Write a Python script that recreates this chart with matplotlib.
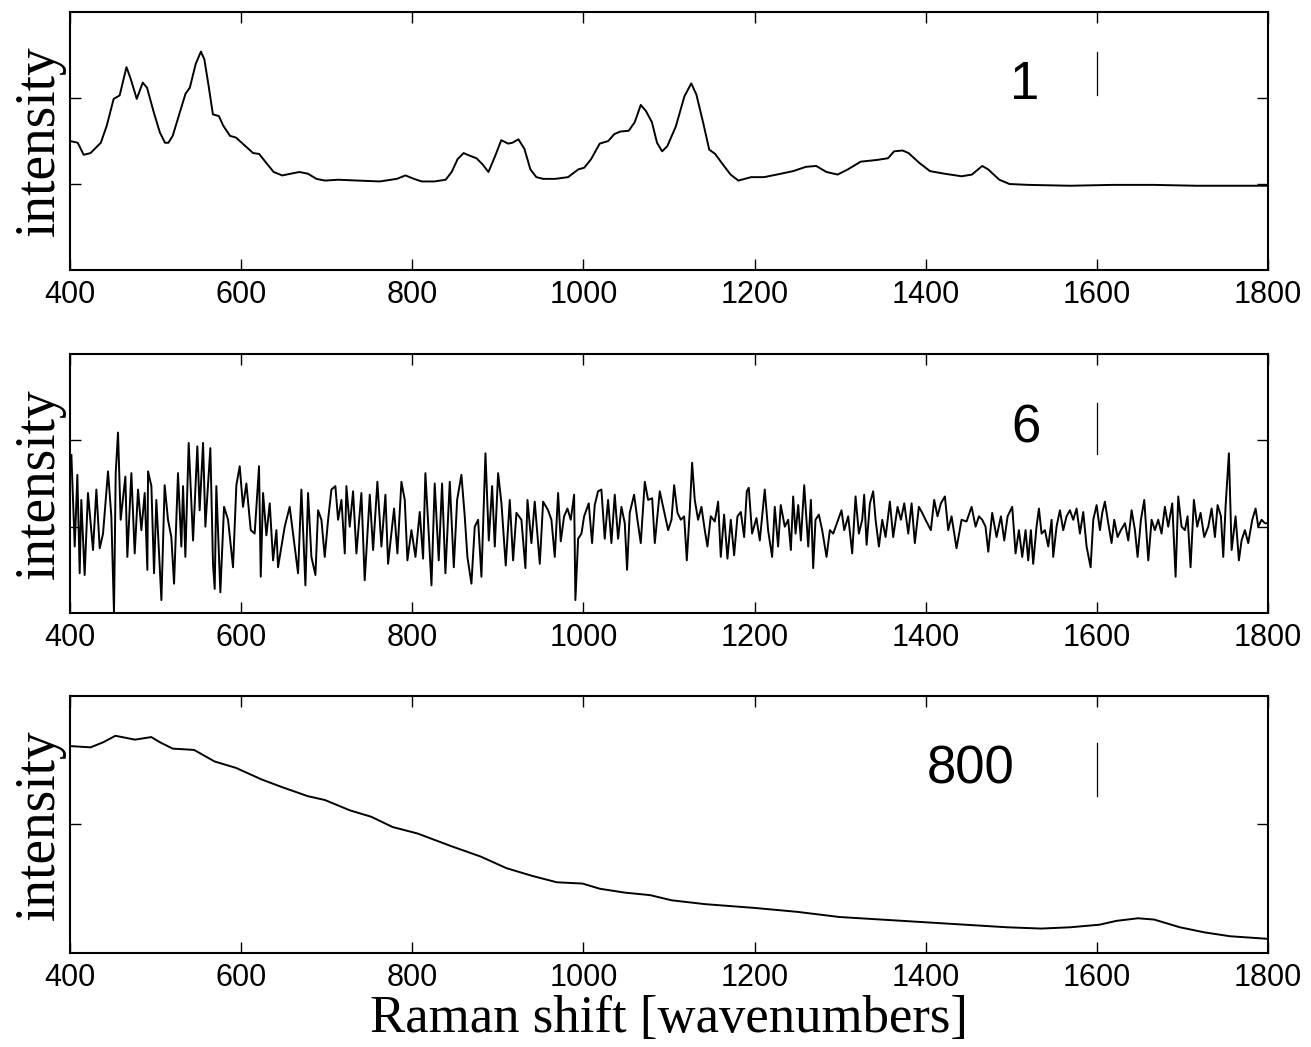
import numpy as np
import matplotlib.pyplot as plt

plt.rcParams['font.family'] = ['Liberation Sans', 'DejaVu Sans']

# --- donnees (wavenumber, intensite relative) ---
# spectre 1 : bien resolu
spec_1 = [(400, 1.50), (409, 1.48), (416, 1.34), (424, 1.36), (436, 1.48), (443, 1.68), (451, 1.99),
          (458, 2.03), (466, 2.36), (471, 2.22), (478, 1.99), (485, 2.18), (490, 2.12), (498, 1.83),
          (505, 1.60), (511, 1.48), (515, 1.48), (520, 1.56), (527, 1.79), (535, 2.05), (540, 2.12),
          (547, 2.40), (553, 2.54), (557, 2.45), (562, 2.14), (567, 1.81), (574, 1.79), (579, 1.68),
          (587, 1.56), (594, 1.54), (604, 1.45), (614, 1.36), (621, 1.35), (629, 1.25), (638, 1.14),
          (648, 1.10), (658, 1.12), (668, 1.14), (678, 1.12), (688, 1.06), (698, 1.04), (713, 1.05),
          (737, 1.04), (762, 1.03), (782, 1.06), (792, 1.10), (802, 1.06), (811, 1.03), (826, 1.03),
          (839, 1.05), (846, 1.14), (853, 1.29), (860, 1.36), (867, 1.33), (875, 1.30), (882, 1.23),
          (889, 1.14), (897, 1.33), (904, 1.51), (912, 1.47), (917, 1.48), (924, 1.52), (931, 1.41),
          (938, 1.17), (945, 1.08), (953, 1.06), (967, 1.06), (982, 1.08), (994, 1.17), (1001, 1.19),
          (1009, 1.29), (1019, 1.47), (1029, 1.50), (1036, 1.58), (1043, 1.61), (1053, 1.62), (1060, 1.72),
          (1067, 1.92), (1073, 1.85), (1080, 1.72), (1086, 1.48), (1092, 1.38), (1098, 1.44), (1108, 1.67),
          (1118, 2.02), (1126, 2.17), (1132, 2.04), (1140, 1.71), (1147, 1.40), (1154, 1.35), (1162, 1.24),
          (1172, 1.11), (1181, 1.04), (1196, 1.08), (1211, 1.08), (1226, 1.11), (1245, 1.15), (1260, 1.20),
          (1272, 1.21), (1284, 1.14), (1297, 1.11), (1309, 1.17), (1324, 1.26), (1343, 1.28), (1356, 1.30),
          (1363, 1.38), (1373, 1.39), (1380, 1.36), (1392, 1.25), (1405, 1.15), (1422, 1.12), (1442, 1.09),
          (1454, 1.11), (1466, 1.21), (1473, 1.17), (1486, 1.05), (1498, 1.00), (1520, 0.99), (1569, 0.98),
          (1618, 0.99), (1667, 0.99), (1716, 0.98), (1766, 0.98), (1800, 0.98)]

# spectre 6 : tres bruite
spec_6 = [(401.6, 1.83), (405.5, 0.77), (408.6, 1.60), (411.3, 0.46), (413.2, 1.31), (417.1, 0.44),
          (421.0, 1.39), (426.9, 0.73), (430.8, 1.43), (434.7, 0.75), (438.6, 0.92), (444.4, 1.64),
          (448.3, 1.12), (451.4, 0.00), (453.4, 1.62), (456.1, 2.09), (459.2, 1.08), (464.7, 1.58),
          (467.0, 0.65), (471.7, 1.62), (475.6, 0.69), (479.5, 1.43), (483.4, 0.96), (487.3, 1.39),
          (490.4, 0.50), (491.2, 1.64), (495.1, 1.47), (498.2, 0.46), (500.9, 1.31), (506.8, 0.15),
          (510.6, 1.48), (514.5, 1.08), (518.4, 0.88), (521.6, 0.34), (526.2, 1.62), (530.1, 0.77),
          (532.1, 1.47), (534.8, 0.65), (538.7, 1.97), (543.8, 0.84), (548.8, 1.93), (551.5, 1.19),
          (555.5, 1.97), (558.2, 1.00), (564.0, 1.91), (567.1, 0.57), (569.1, 0.28), (571.0, 1.47),
          (575.7, 0.24), (580.0, 1.23), (584.7, 1.08), (590.5, 0.53), (594.4, 1.48), (598.3, 1.70),
          (602.2, 1.23), (606.1, 1.50), (611.2, 0.96), (615.8, 0.92), (620.9, 1.70), (622.9, 0.42),
          (625.6, 1.39), (629.5, 0.90), (633.4, 1.27), (637.3, 0.61), (641.2, 0.96), (643.1, 0.53),
          (650.9, 1.00), (656.7, 1.23), (666.5, 0.46), (670.4, 1.43), (675.1, 0.32),
          (678.2, 1.39), (682.1, 0.65), (686.8, 0.44), (689.9, 1.19), (693.8, 1.08), (697.7, 0.65),
          (701.6, 1.08), (705.5, 1.43), (710.1, 1.47), (713.3, 1.08), (717.2, 1.31), (721.1, 0.69),
          (723.0, 1.47), (726.9, 1.00), (730.8, 1.41), (734.7, 0.69), (740.5, 1.39), (744.4, 0.38),
          (750.3, 1.37), (754.2, 0.73), (759.2, 1.52), (763.9, 0.77), (768.6, 1.37), (771.7, 0.57),
          (778.7, 1.21), (782.6, 0.69), (787.3, 1.52), (791.2, 1.31), (794.3, 0.61), (799.0, 0.96),
          (803.7, 0.65), (808.7, 1.17), (812.6, 0.63), (815.3, 1.62), (819.2, 0.92), (822.4, 0.32),
          (826.2, 1.50), (830.9, 0.61), (834.8, 1.50), (838.7, 0.46), (843.8, 1.52), (848.5, 0.53),
          (852.4, 1.31), (857.4, 1.60), (861.3, 1.12), (864.4, 0.65), (869.1, 0.34), (873.0, 1.00),
          (876.9, 1.08), (880.8, 0.42), (885.5, 1.85), (889.4, 0.84), (893.3, 1.47), (896.4, 0.77),
          (900.3, 1.62), (904.2, 1.27), (909.2, 0.55), (913.9, 1.31), (917.8, 0.61), (921.7, 1.16),
          (927.5, 1.08), (932.2, 0.52), (934.6, 1.31), (939.2, 0.81), (943.1, 1.29), (949.0, 0.57),
          (952.9, 1.29),
          (958.7, 1.19), (962.6, 1.08), (966.5, 0.65), (970.4, 1.39), (973.5, 0.83), (977.4, 1.12),
          (981.3, 1.21), (985.2, 1.08), (989.1, 1.37), (990.6, 0.15), (993.8, 0.86), (997.7, 0.92),
          (1000.8, 1.12), (1006.2, 1.27), (1010.1, 0.81), (1013.2, 1.25), (1017.1, 1.41), (1021.0, 1.43),
          (1024.9, 0.86), (1028.8, 1.31), (1032.7, 0.81), (1036.6, 1.37), (1040.5, 0.86), (1044.4, 1.23),
          (1048.3, 1.04), (1051.0, 0.50), (1054.1, 1.16), (1059.2, 1.37), (1063.1, 1.08), (1067.0, 0.81),
          (1071.7, 1.52), (1075.6, 1.31), (1080.3, 1.33), (1083.4, 0.81), (1089.2, 1.41), (1093.1, 1.23),
          (1099.0, 0.96), (1102.9, 1.08), (1106.0, 1.48), (1109.9, 1.16), (1113.8, 1.08), (1117.7, 1.12),
          (1120.8, 0.61), (1124.3, 1.19), (1127.0, 1.74), (1130.1, 1.31), (1134.0, 1.08), (1137.9, 1.23),
          (1141.8, 0.96), (1144.9, 0.77), (1148.8, 1.12), (1153.5, 1.06), (1157.4, 1.29), (1160.5, 0.65),
          (1164.4, 1.14), (1168.3, 0.63), (1172.2, 1.08), (1176.1, 0.67), (1180.0, 1.12), (1183.9, 1.17),
          (1187.8, 0.88), (1190.9, 1.41), (1193.2, 1.45), (1197.1, 0.92), (1202.2, 1.10), (1206.1, 0.84),
          (1211.9, 1.43), (1215.8, 0.96), (1220.5, 0.65), (1223.6, 1.23), (1227.5, 0.77), (1230.6, 1.25),
          (1235.3, 1.00),
          (1239.3, 1.08), (1242.4, 0.73), (1245.1, 1.35), (1247.9, 0.92), (1251.0, 1.25), (1254.1, 0.84),
          (1258.0, 1.48), (1260.7, 1.08), (1262.7, 0.77), (1265.8, 1.31), (1268.5, 0.52), (1271.2, 1.08),
          (1275.1, 1.14), (1279.0, 0.96), (1284.1, 0.65), (1288.0, 0.96), (1291.9, 0.92), (1297.7, 1.08),
          (1301.6, 1.19), (1304.8, 0.96), (1309.4, 1.12), (1314.1, 0.69), (1318.0, 1.35), (1321.9, 0.92),
          (1325.8, 1.08), (1328.1, 1.37), (1330.9, 0.79), (1334.8, 1.27), (1338.6, 1.41), (1341.4, 1.08),
          (1345.3, 0.77), (1349.2, 1.08), (1353.1, 0.88), (1358.1, 1.29), (1362.0, 0.88), (1367.1, 1.23),
          (1371.0, 1.08), (1374.9, 1.27), (1379.6, 0.92), (1383.5, 1.27), (1387.3, 0.81), (1392.0, 1.23),
          (1395.9, 1.16), (1399.8, 1.08), (1406.0, 0.96), (1409.9, 1.31), (1413.8, 1.12), (1417.7, 1.27),
          (1422.4, 1.35), (1426.3, 0.96), (1430.2, 1.12), (1436.0, 0.75), (1441.9, 1.08), (1447.7, 1.06),
          (1453.6, 1.23), (1458.3, 1.00), (1462.2, 1.12), (1466.0, 1.08), (1469.9, 1.00), (1473.1, 0.71),
          (1477.7, 1.16), (1482.8, 0.88), (1487.9, 1.12), (1491.8, 0.84), (1495.7, 1.12), (1501.1, 1.23),
          (1505.0, 0.69), (1508.9, 0.96), (1512.8, 0.65), (1516.7, 0.96),
          (1519.8, 0.61), (1522.9, 0.96), (1525.6, 0.57), (1529.5, 1.00), (1532.3, 1.21), (1535.4, 0.92),
          (1539.3, 0.96), (1543.2, 0.77), (1547.1, 1.08), (1549.0, 0.65), (1552.9, 1.00), (1556.8, 1.19),
          (1560.7, 0.96), (1564.6, 1.12), (1568.5, 1.19), (1572.4, 1.08), (1576.3, 1.21), (1580.2, 0.92),
          (1584.1, 1.17), (1588.0, 0.77), (1592.7, 0.53), (1595.8, 1.08), (1599.7, 1.25), (1603.6, 0.96),
          (1606.3, 1.16), (1609.4, 1.29), (1613.3, 1.04), (1617.2, 0.81), (1620.3, 1.08), (1624.2, 0.88),
          (1628.1, 0.96), (1632.8, 1.04), (1636.7, 0.84), (1640.6, 1.19), (1644.5, 0.96), (1647.6, 0.65),
          (1651.5, 1.08), (1655.4, 1.31), (1660.1, 0.61), (1664.0, 1.08), (1667.8, 0.96), (1671.7, 1.08),
          (1675.6, 0.92), (1679.5, 1.23), (1683.4, 1.00), (1688.1, 1.27), (1692.0, 0.42), (1695.1, 1.35),
          (1699.0, 1.00), (1702.9, 0.96), (1706.0, 1.12), (1709.5, 0.53), (1713.4, 1.31), (1717.3, 1.00),
          (1721.2, 1.16), (1725.5, 0.88), (1730.2, 1.00), (1734.1, 1.21), (1738.0, 0.88), (1741.1, 1.25),
          (1745.0, 1.12), (1747.7, 0.65), (1750.4, 1.23), (1754.3, 1.85), (1757.5, 0.73), (1762.1, 1.12),
          (1766.0, 0.61), (1769.1, 0.84), (1773.0, 0.96), (1776.9, 0.81), (1781.6, 1.08), (1785.5, 1.21),
          (1788.6, 1.00), (1792.5, 1.08), (1796.4, 1.04), (1800.0, 1.04)]

# spectre 800 : fond de fluorescence
spec_800 = [(400, 1.61), (424, 1.60), (439, 1.64), (453, 1.69), (476, 1.66), (495, 1.68), (505, 1.64),
            (520, 1.59), (545, 1.58), (569, 1.49), (594, 1.44), (624, 1.35), (648, 1.29), (678, 1.22),
            (698, 1.19), (727, 1.11), (752, 1.06), (777, 0.98), (806, 0.93), (846, 0.83), (880, 0.75),
            (910, 0.66), (940, 0.60), (969, 0.55), (999, 0.54), (1019, 0.50), (1048, 0.47), (1078, 0.45),
            (1103, 0.41), (1142, 0.38), (1201, 0.35), (1250, 0.32), (1299, 0.28), (1348, 0.26), (1397, 0.24),
            (1446, 0.22), (1495, 0.20), (1535, 0.19), (1569, 0.20), (1603, 0.22), (1623, 0.25), (1648, 0.27),
            (1667, 0.26), (1697, 0.20), (1726, 0.16), (1756, 0.13), (1800, 0.11)]

spectra = [spec_1, spec_6, spec_800]
labels = ['1', '6', '800']
xticks = [400, 600, 800, 1000, 1200, 1400, 1600, 1800]

# --- mise en page (fractions de la figure) ---
positions = [[0.0534, 0.7421, 0.9138, 0.2464],
             [0.0534, 0.4145, 0.9138, 0.2474],
             [0.0534, 0.0898, 0.9138, 0.2455]]
ylims = [(0, 3), (0, 3), (0, 2)]
yticks = [[1, 2], [1, 2], [1]]
label_pos = [(1516, 1.99), (1517, 1.98), (1452, 1.32)]
mark_span = [(2.03, 2.53), (1.84, 2.43), (1.22, 1.63)]

fig = plt.figure(figsize=(13.11, 10.47), dpi=100)

for i in range(3):
    ax = fig.add_axes(positions[i])
    wn, inten = zip(*spectra[i])
    ax.plot(wn, inten, color='black', lw=1.4)
    ax.set_xlim(400, 1800)
    ax.set_ylim(*ylims[i])
    ax.set_xticks(xticks)
    ax.set_yticks(yticks[i])
    ax.tick_params(direction='in', top=True, right=True, length=8, width=1,
                   labelleft=False, labelsize=22, pad=7)
    for s in ax.spines.values():
        s.set_linewidth(1.5)
    ax.set_ylabel('intensity', family='Liberation Serif', fontsize=40, labelpad=3)
    # numero du spectre + trait a 1600
    ax.text(label_pos[i][0], label_pos[i][1], labels[i], fontsize=38, ha='center', va='baseline')
    ax.plot([1600, 1600], mark_span[i], color='black', lw=0.9)
    if i == 2:
        ax.set_xlabel('Raman shift [wavenumbers]', family='Liberation Serif', fontsize=38, labelpad=2)

fig.savefig('out.png', dpi=100)
